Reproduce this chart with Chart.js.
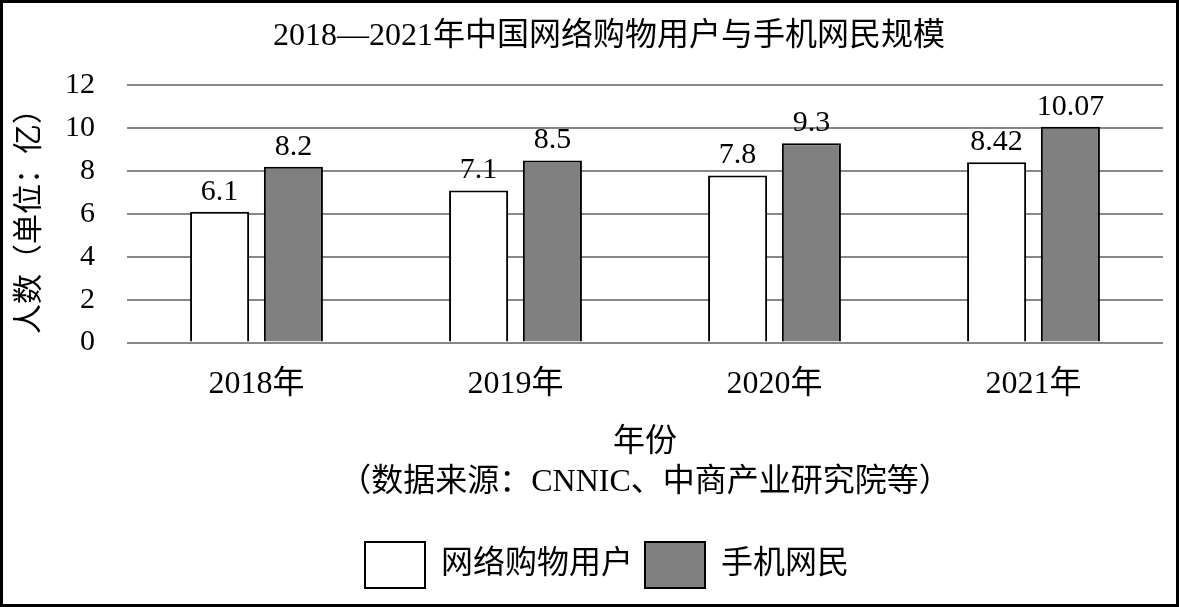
<!DOCTYPE html>
<html>
<head>
<meta charset="utf-8">
<script src="https://cdn.jsdelivr.net/npm/chart.js@4"></script>
<style>
  html, body { margin: 0; padding: 0; background: #fff; }
  #wrap { width: 1179px; height: 607px; box-sizing: border-box; border: 3px solid #000; position: relative; background: #fff; }
</style>
</head>
<body>
<div id="wrap"><canvas id="chart"></canvas></div>
<script>
const FONT = '"Liberation Serif", "Noto Sans CJK SC", serif';
Chart.defaults.font.family = FONT;
Chart.defaults.font.size = 30;
Chart.defaults.color = '#000';

// data
const years = ['2018年', '2019年', '2020年', '2021年'];
const shoppers = [6.1, 7.1, 7.8, 8.42];
const mobileUsers = [8.2, 8.5, 9.3, 10.07];
const seriesNames = ['网络购物用户', '手机网民'];

// labels above bars
const valueLabels = {
  id: 'valueLabels',
  afterDatasetsDraw(chart) {
    const ctx = chart.ctx;
    ctx.save();
    ctx.font = '30px ' + FONT;
    ctx.fillStyle = '#000';
    ctx.textAlign = 'center';
    ctx.textBaseline = 'bottom';
    chart.data.datasets.forEach((ds, i) => {
      chart.getDatasetMeta(i).data.forEach((bar, j) => {
        ctx.fillText(String(ds.data[j]), bar.x, bar.y - 5);
      });
    });
    ctx.restore();
  }
};

// title and legend sit a little right of centre in the original
const nudge = {
  id: 'nudge',
  afterLayout(chart) {
    if (chart.titleBlock) { chart.titleBlock.left += 26; chart.titleBlock.right += 26; }
    if (chart.legend) { chart.legend.left += 24; chart.legend.right += 24; }
  }
};

const data = {
  labels: years,
  datasets: [{
    label: seriesNames[0],
    data: shoppers,
    backgroundColor: '#ffffff',
    borderColor: '#000',
    borderWidth: 2
  }, {
    label: seriesNames[1],
    data: mobileUsers,
    backgroundColor: '#808080',
    borderColor: '#000',
    borderWidth: 2
  }]
};

const options = {
  responsive: true,
  maintainAspectRatio: false,
  animation: false,
  categoryPercentage: 0.57,
  barPercentage: 0.8,
  layout: { padding: { left: 0, right: 13, top: 0, bottom: 6 } },
  plugins: {
    title: {
      display: true,
      text: '2018—2021年中国网络购物用户与手机网民规模',
      font: { size: 32, weight: 'normal' },
      padding: { top: 14, bottom: 30 }
    },
    legend: {
      position: 'bottom',
      labels: {
        boxWidth: 60,
        boxHeight: 46,
        padding: 12,
        font: { size: 32 }
      }
    },
    tooltip: { enabled: false }
  },
  scales: {
    x: {
      grid: { display: false },
      border: { display: false },
      ticks: { padding: 15, font: { size: 32 } },
      title: {
        display: true,
        text: ['年份', '（数据来源：CNNIC、中商产业研究院等）'],
        font: { size: 32, lineHeight: 1.25 },
        padding: { top: 4, bottom: 27 }
      }
    },
    y: {
      min: 0,
      max: 12,
      ticks: { stepSize: 2, padding: 32 },
      grid: { color: '#888', lineWidth: 2, drawTicks: false },
      border: { display: false },
      title: {
        display: true,
        text: '人数（单位：亿）',
        font: { size: 30 },
        padding: { top: 9, bottom: 0 }
      },
      afterFit(scale) { scale.width = 124; }
    }
  }
};

new Chart(document.getElementById('chart'), {
  type: 'bar',
  data: data,
  options: options,
  plugins: [valueLabels, nudge]
});
</script>
</body>
</html>
